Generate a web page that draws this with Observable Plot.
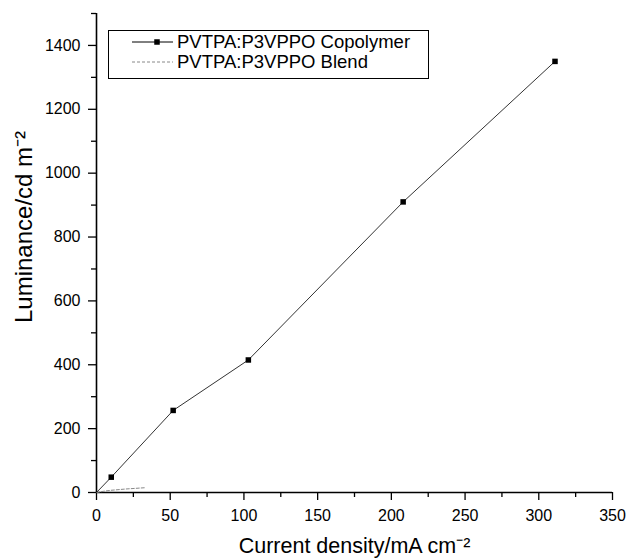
<!DOCTYPE html>
<html>
<head>
<meta charset="utf-8">
<script src="https://cdn.jsdelivr.net/npm/d3@7"></script>
<script src="https://cdn.jsdelivr.net/npm/@observablehq/plot@0.6"></script>
<style>
  html, body { margin: 0; padding: 0; background: #fff; }
  #wrap { position: relative; width: 628px; height: 558px; font-family: "Liberation Sans", Arial, Helvetica, sans-serif; }
</style>
</head>
<body>
<div id="wrap"></div>
<script>
// Series names
const seriesNames = ["PVTPA:P3VPPO Copolymer", "PVTPA:P3VPPO Blend"];
// Copolymer: current density (mA cm-2) vs luminance (cd m-2)
const copolymerX = [0, 10, 52, 103, 208, 311];
const copolymerY = [0, 48, 257, 415, 910, 1350];
// Blend
const blendX = [0, 5, 10, 20, 33];
const blendY = [0, 4, 7, 11, 15];
// Axes ticks
const xTicks = [0, 50, 100, 150, 200, 250, 300, 350];
const xMinor = [25, 75, 125, 175, 225, 275, 325];
const yTicks = [0, 200, 400, 600, 800, 1000, 1200, 1400];
const yMinor = [100, 300, 500, 700, 900, 1100, 1300, 1500];
const xTitle = "Current density/mA cm\u207B\u00B2";
const yTitle = "Luminance/cd m\u207B\u00B2";

const copolymer = copolymerX.map((x, i) => ({x, y: copolymerY[i]}));
const blend = blendX.map((x, i) => ({x, y: blendY[i]}));

const font = '"Liberation Sans", Arial, Helvetica, sans-serif';

const chart = Plot.plot({
  width: 628,
  height: 558,
  marginLeft: 96,
  marginRight: 16,
  marginTop: 13,
  marginBottom: 66,
  style: {fontFamily: font, fontSize: "16px", color: "#000", background: "#fff", overflow: "visible"},
  x: {domain: [0, 350]},
  y: {domain: [0, 1500]},
  marks: [
    Plot.axisX({ticks: xTicks, tickSize: 8, tickPadding: 9, tickFormat: d => String(d), label: null, stroke: "#000", strokeWidth: 1.3, fontSize: 16}),
    Plot.axisX({ticks: xMinor, tickSize: 5, text: null, label: null, stroke: "#000", strokeWidth: 1.3}),
    Plot.axisY({ticks: yTicks, tickSize: 8, tickPadding: 8, tickFormat: d => String(d), label: null, stroke: "#000", strokeWidth: 1.3, fontSize: 16}),
    Plot.axisY({ticks: yMinor, tickSize: 5, text: null, label: null, stroke: "#000", strokeWidth: 1.3}),
    Plot.ruleX([0], {y1: 0, y2: 1500, stroke: "#000", strokeWidth: 1.6}),
    Plot.ruleY([0], {x1: 0, x2: 350, stroke: "#000", strokeWidth: 1.6}),
    Plot.line(blend, {x: "x", y: "y", stroke: "#888", strokeWidth: 1, strokeDasharray: "3,2"}),
    Plot.line(copolymer, {x: "x", y: "y", stroke: "#333", strokeWidth: 1}),
    Plot.dot(copolymer.filter(d => d.x > 0), {x: "x", y: "y", symbol: "square", r: 3.1, fill: "#000", stroke: "none"}),
    Plot.text([xTitle], {frameAnchor: "bottom", dy: 60, textAnchor: "middle", text: d => d, fontSize: 21.5, fill: "#000"}),
    Plot.text([yTitle], {frameAnchor: "left", dx: -72, dy: -26, rotate: -90, textAnchor: "middle", lineAnchor: "middle", text: d => d, fontSize: 24, fill: "#000"})
  ]
});

const wrap = document.getElementById("wrap");
wrap.appendChild(chart);

// Legend overlay
const ns = "http://www.w3.org/2000/svg";
const leg = document.createElementNS(ns, "svg");
leg.setAttribute("width", 322);
leg.setAttribute("height", 50);
leg.style.position = "absolute";
leg.style.left = "108px";
leg.style.top = "30px";
const styles = [
  {stroke: "#000", dash: null, marker: true},
  {stroke: "#888", dash: "3,2", marker: false}
];
let html = `<rect x="0.5" y="0.5" width="320" height="48" fill="#fff" stroke="#000" stroke-width="1"/>`;
seriesNames.forEach((name, i) => {
  const cy = 12 + i * 20;
  const s = styles[i];
  html += `<line x1="24" x2="65" y1="${cy}" y2="${cy}" stroke="${s.stroke}" stroke-width="1" ${s.dash ? `stroke-dasharray="${s.dash}"` : ""}/>`;
  if (s.marker) html += `<rect x="${49 - 2.75}" y="${cy - 2.75}" width="5.5" height="5.5" fill="#000"/>`;
  html += `<text x="69" y="${cy}" dy="0.35em" font-size="18.5" font-family='${font}' fill="#000">${name}</text>`;
});
leg.innerHTML = html;
wrap.appendChild(leg);
</script>
</body>
</html>
